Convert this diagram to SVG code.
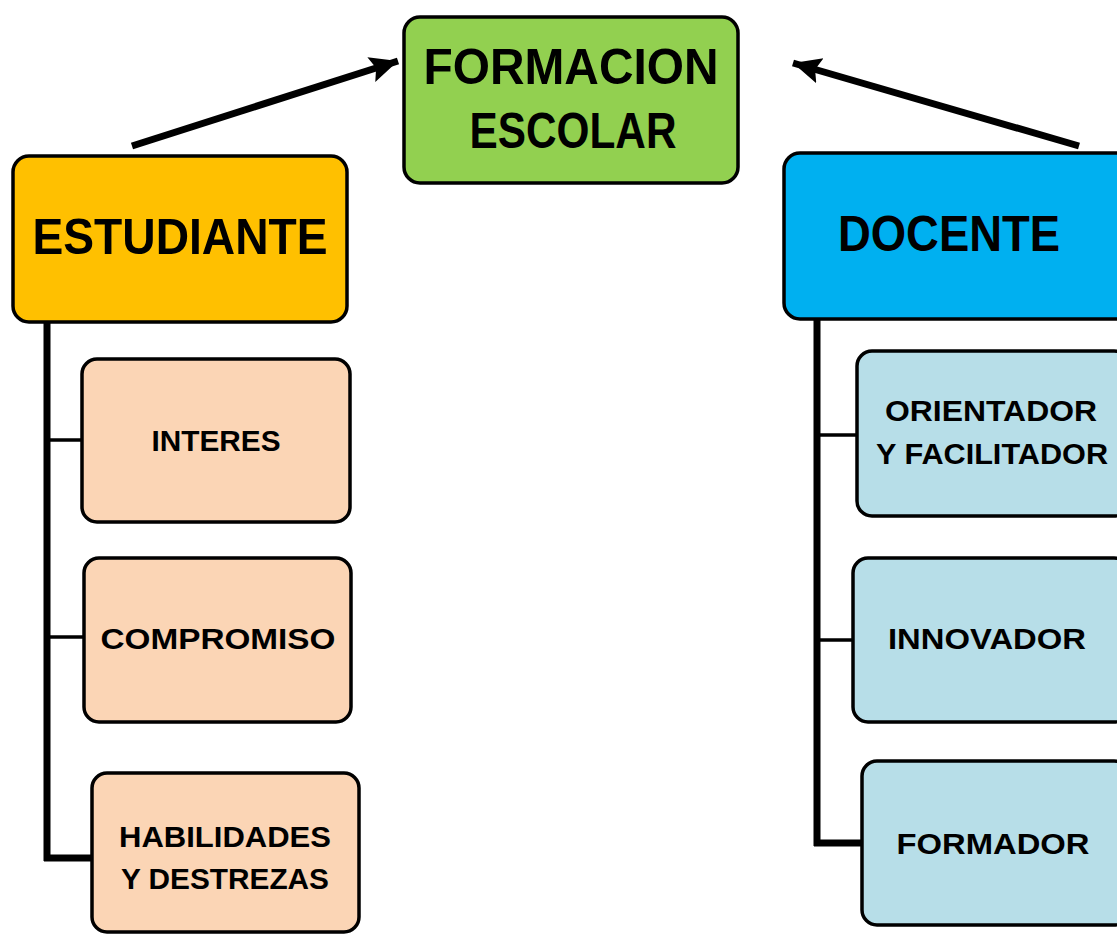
<svg xmlns="http://www.w3.org/2000/svg" width="1117" height="935" viewBox="0 0 1117 935">
<style>
.box{stroke:#000;stroke-width:3.5}
.t{font-family:"Liberation Sans",Arial,sans-serif;font-weight:bold;fill:#000;text-anchor:middle}
.big{font-size:50px}
.small{font-size:29px}
.stud{fill:#FBD5B5}
.doc{fill:#B7DEE8}
.ln{stroke:#000;fill:none}
</style>
<defs>
<marker id="ah" markerUnits="userSpaceOnUse" markerWidth="32" markerHeight="30" refX="28" refY="14" orient="auto">
<path d="M0,1 L28,14 L0,27 L5,14 Z" fill="#000"/>
</marker>
</defs>
<rect width="1117" height="935" fill="#fff"/>
<g id="connectors">
<line class="ln" x1="132" y1="146" x2="398" y2="61" stroke-width="7" marker-end="url(#ah)"/>
<line class="ln" x1="1079" y1="146" x2="793" y2="63" stroke-width="7" marker-end="url(#ah)"/>
<line class="ln" x1="47" y1="322" x2="47" y2="861" stroke-width="7"/>
<line class="ln" x1="44" y1="440" x2="82" y2="440" stroke-width="3.5"/>
<line class="ln" x1="44" y1="637" x2="84" y2="637" stroke-width="3.5"/>
<line class="ln" x1="44" y1="858" x2="92" y2="858" stroke-width="7"/>
<line class="ln" x1="817" y1="320" x2="817" y2="846" stroke-width="7"/>
<line class="ln" x1="814" y1="435" x2="856" y2="435" stroke-width="3.5"/>
<line class="ln" x1="814" y1="640" x2="852" y2="640" stroke-width="3.5"/>
<line class="ln" x1="814" y1="843" x2="862" y2="843" stroke-width="7"/>
</g>
<g id="formacion">
<rect class="box" x="404" y="17" width="334" height="166" rx="16" fill="#92D050"/>
<text class="t big" x="571" y="84" textLength="295" lengthAdjust="spacingAndGlyphs">FORMACION</text>
<text class="t big" x="573" y="148" textLength="207" lengthAdjust="spacingAndGlyphs">ESCOLAR</text>
</g>
<g id="estudiante">
<rect class="box" x="13" y="156" width="334" height="166" rx="16" fill="#FFC000"/>
<text class="t big" x="180" y="254" textLength="295" lengthAdjust="spacingAndGlyphs">ESTUDIANTE</text>
</g>
<g id="docente">
<rect class="box" x="784" y="153" width="348" height="166" rx="16" fill="#00B0F0"/>
<text class="t big" x="949" y="251" textLength="222" lengthAdjust="spacingAndGlyphs">DOCENTE</text>
</g>
<g id="interes">
<rect class="box stud" x="82" y="359" width="268" height="163" rx="15"/>
<text class="t small" x="216" y="451" textLength="129" lengthAdjust="spacingAndGlyphs">INTERES</text>
</g>
<g id="compromiso">
<rect class="box stud" x="84" y="558" width="267" height="164" rx="15"/>
<text class="t small" x="218" y="649" textLength="235" lengthAdjust="spacingAndGlyphs">COMPROMISO</text>
</g>
<g id="habilidades">
<rect class="box stud" x="92" y="773" width="267" height="159" rx="15"/>
<text class="t small" x="225" y="847" textLength="212" lengthAdjust="spacingAndGlyphs">HABILIDADES</text>
<text class="t small" x="225" y="889" textLength="208" lengthAdjust="spacingAndGlyphs">Y DESTREZAS</text>
</g>
<g id="orientador">
<rect class="box doc" x="857" y="351" width="272" height="165" rx="15"/>
<text class="t small" x="991" y="421" textLength="212" lengthAdjust="spacingAndGlyphs">ORIENTADOR</text>
<text class="t small" x="992" y="464" textLength="232" lengthAdjust="spacingAndGlyphs">Y FACILITADOR</text>
</g>
<g id="innovador">
<rect class="box doc" x="853" y="558" width="276" height="164" rx="15"/>
<text class="t small" x="987" y="649" textLength="198" lengthAdjust="spacingAndGlyphs">INNOVADOR</text>
</g>
<g id="formador">
<rect class="box doc" x="862" y="761" width="267" height="164" rx="15"/>
<text class="t small" x="993" y="854" textLength="193" lengthAdjust="spacingAndGlyphs">FORMADOR</text>
</g>
</svg>
